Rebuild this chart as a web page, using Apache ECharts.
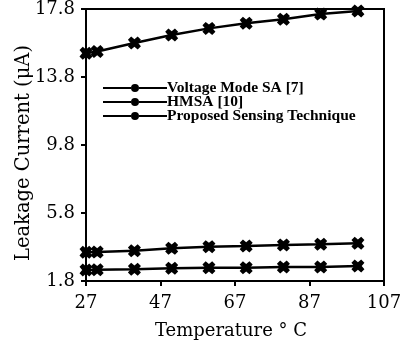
<!DOCTYPE html>
<html><head><meta charset="utf-8">
<script src="https://cdn.jsdelivr.net/npm/echarts@6/dist/echarts.min.js"></script>
<style>html,body{margin:0;padding:0;background:#fff}#c{width:411px;height:343px}</style>
</head><body><div id="c"></div>
<script>
const temps = [27, 30, 40, 50, 60, 70, 80, 90, 100];
const voltageModeSA = [15.2, 15.3, 15.8, 16.27, 16.66, 16.96, 17.2, 17.5, 17.68];
const hmsa = [3.49, 3.5, 3.58, 3.72, 3.82, 3.86, 3.92, 3.96, 4.02];
const proposed = [2.45, 2.46, 2.49, 2.55, 2.58, 2.58, 2.62, 2.62, 2.68];
const seriesNames = ['Voltage Mode SA [7]', 'HMSA [10]', 'Proposed Sensing Technique'];
const yTicks = [1.8, 5.8, 9.8, 13.8, 17.8];
const xTicks = [27, 47, 67, 87, 107];

const FONT = '"DejaVu Serif",serif';
const LFONT = '"Liberation Serif","Times New Roman",serif';
const markerPath = 'path://M3 0L6 2.5L9 0L12 3L9.5 6L12 9L9 12L6 9.5L3 12L0 9L2.5 6L0 3Z';
const legendIcon = 'path://M0 3.9H28V6.1H0Z M36 3.9H64V6.1H36Z M28 5a4 4 0 1 0 8 0a4 4 0 1 0 -8 0Z';

function mk(name, vals) {
  return {
    name: name, type: 'line',
    data: temps.map((t, i) => [t, vals[i]]),
    symbol: markerPath, symbolSize: 13,
    lineStyle: {color: '#000', width: 2.5},
    itemStyle: {color: '#000'},
    animation: false
  };
}

const chart = echarts.init(document.getElementById('c'));
chart.setOption({
  animation: false,
  grid: {left: 86, right: 27, top: 9, bottom: 62, show: true, borderColor: '#000', borderWidth: 2, outerBoundsMode: 'none', containLabel: false},
  legend: {
    orient: 'vertical', left: 98, top: 75, itemGap: -2, itemWidth: 64, itemHeight: 10,
    data: seriesNames.map(n => ({name: n, icon: legendIcon})),
    textStyle: {fontFamily: LFONT, fontWeight: 'bold', fontSize: 15.5, color: '#000', padding: [0, 0, 0, -5]}
  },
  xAxis: {
    type: 'value', min: 27, max: 107,
    name: 'Temperature ° C', nameLocation: 'middle', nameGap: 41, nameMoveOverlap: false,
    nameTextStyle: {fontFamily: FONT, fontSize: 18, color: '#000', padding: [0, 8, 0, 0]},
    axisLine: {lineStyle: {color: '#000', width: 2}},
    axisTick: {show: true, length: 5, lineStyle: {color: '#000', width: 2}, customValues: xTicks},
    axisLabel: {fontFamily: FONT, fontSize: 18, color: '#000', margin: 13, customValues: xTicks},
    splitLine: {show: false}
  },
  yAxis: {
    type: 'value', min: 1.8, max: 17.8,
    name: 'Leakage Current (μA)', nameLocation: 'middle', nameGap: 52, nameMoveOverlap: false,
    nameTextStyle: {fontFamily: FONT, fontSize: 19.5, color: '#000', padding: [0, 16, 0, 0]},
    axisLine: {lineStyle: {color: '#000', width: 2}},
    axisTick: {show: true, length: 5, lineStyle: {color: '#000', width: 2}, customValues: yTicks},
    axisLabel: {fontFamily: FONT, fontSize: 18, color: '#000', margin: 11, customValues: yTicks, formatter: v => v.toFixed(1)},
    splitLine: {show: false}
  },
  series: [mk(seriesNames[0], voltageModeSA), mk(seriesNames[1], hmsa), mk(seriesNames[2], proposed)]
});
</script></body></html>
